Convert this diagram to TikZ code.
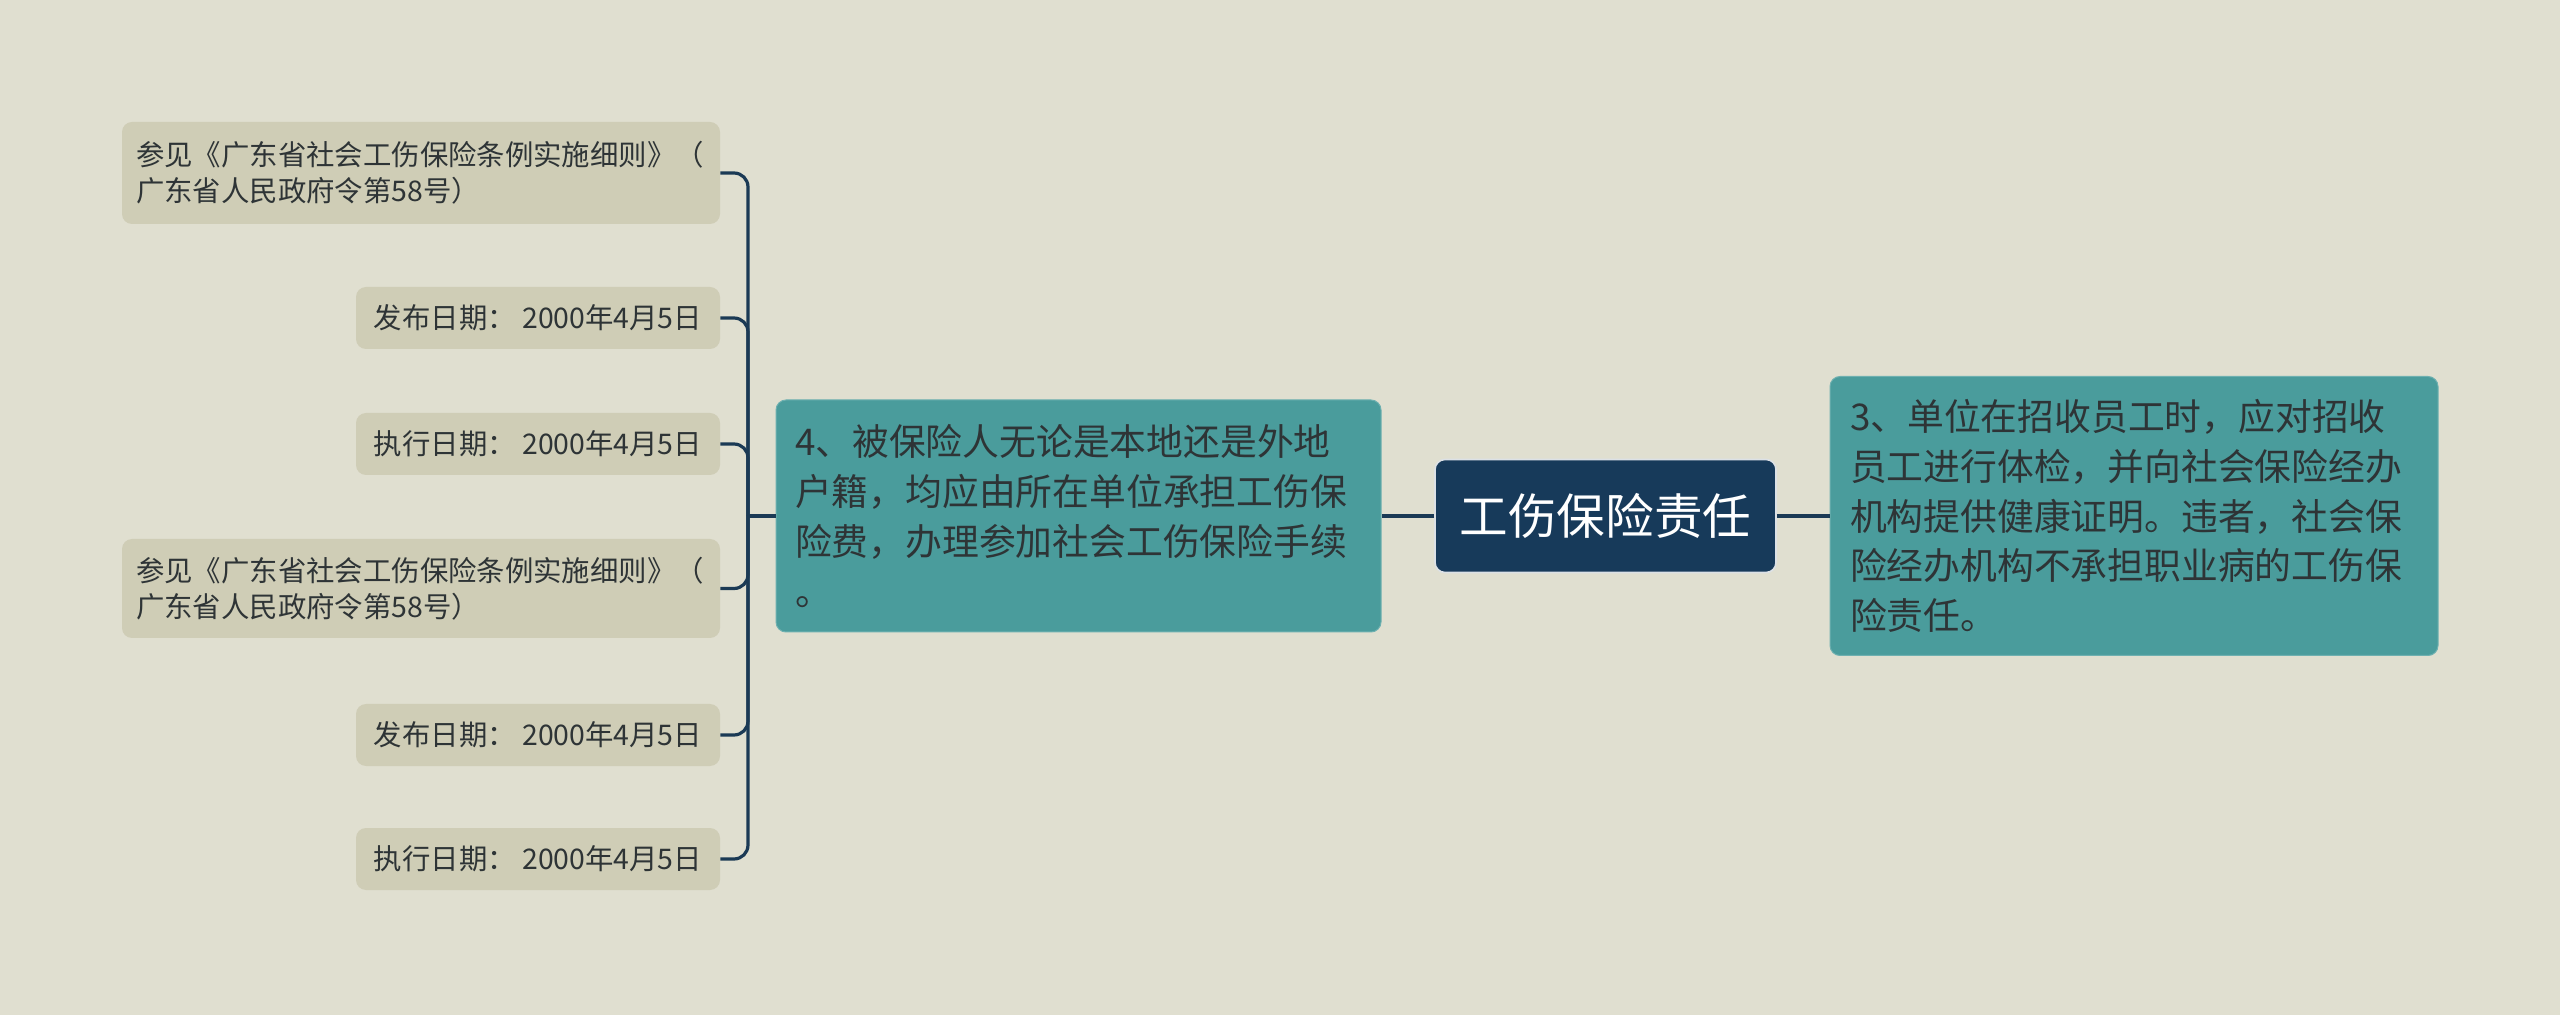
\documentclass[tikz,border=0pt]{standalone}
\usepackage{fontspec}
\setmainfont{Noto Sans CJK SC}
\definecolor{bg}{HTML}{E0DFD0}
\definecolor{leaf}{HTML}{CFCDB6}
\definecolor{teal2}{HTML}{4A9C9C}
\definecolor{navy}{HTML}{173A5A}
\definecolor{line}{HTML}{1B3A55}
\definecolor{txt}{HTML}{2E3436}
\tikzset{
  leafbox/.style={fill=leaf, rounded corners=5pt, text=txt, inner xsep=7pt, inner ysep=0pt,
    font=\fontsize{14.2pt}{18pt}\selectfont, align=left},
  tealbox/.style={fill=teal2, draw=teal2!80!white, line width=0.5pt, rounded corners=5pt, text=txt, inner ysep=0pt,
    font=\fontsize{18.4pt}{24.9pt}\selectfont, align=left},
  rootbox/.style={fill=navy, draw=white!85!navy, line width=0.8pt, rounded corners=5pt, text=white,
    font=\fontsize{24.3pt}{30pt}\selectfont, minimum width=170.5pt, minimum height=56.5pt},
  conn/.style={draw=line, line width=1.6pt, rounded corners=7pt},
  straight/.style={draw=line, line width=1.6pt}
}
\begin{document}
\begin{tikzpicture}[x=0.5pt,y=-0.5pt]
\fill[bg] (0,0) rectangle (2560,1015);
\useasboundingbox (0,0) rectangle (2560,1015);

\node[rootbox] (root) at (1605.5,516) {工伤保险责任};

\node[tealbox, text width=283.5pt, inner xsep=9.5pt, minimum height=116pt] (L) at (1078.5,516)
 {4、被保险人无论是本地还是外地\\户籍，均应由所在单位承担工伤保\\险费，办理参加社会工伤保险手续\\。};

\node[tealbox, text width=284pt, inner xsep=10pt, minimum height=139.5pt] (R) at (2134,516)
 {3、单位在招收员工时，应对招收\\员工进行体检，并向社会保险经办\\机构提供健康证明。违者，社会保\\险经办机构不承担职业病的工伤保\\险责任。};

\node[leafbox, text width=285pt, minimum height=51pt] (l1) at (421,173)
 {参见《广东省社会工伤保险条例实施细则》（\\广东省人民政府令第58号）};
\node[leafbox, minimum width=182pt, minimum height=31pt] (l2) at (538,318) {发布日期：\ 2000年4月5日};
\node[leafbox, minimum width=182pt, minimum height=31pt] (l3) at (538,444) {执行日期：\ 2000年4月5日};
\node[leafbox, text width=285pt, minimum height=49.5pt] (l4) at (421,588.5)
 {参见《广东省社会工伤保险条例实施细则》（\\广东省人民政府令第58号）};
\node[leafbox, minimum width=182pt, minimum height=31pt] (l5) at (538,735) {发布日期：\ 2000年4月5日};
\node[leafbox, minimum width=182pt, minimum height=31pt] (l6) at (538,859) {执行日期：\ 2000年4月5日};

\coordinate (hub) at (748,516);

\draw[straight] (root.east) -- (R.west);
\draw[straight] (root.west) -- (L.east);
\draw[straight] (L.west) -- (hub);
\foreach \n in {l1,l2,l3,l4,l5,l6}{
  \draw[conn] (\n.east) -| (hub);
}
\end{tikzpicture}
\end{document}
